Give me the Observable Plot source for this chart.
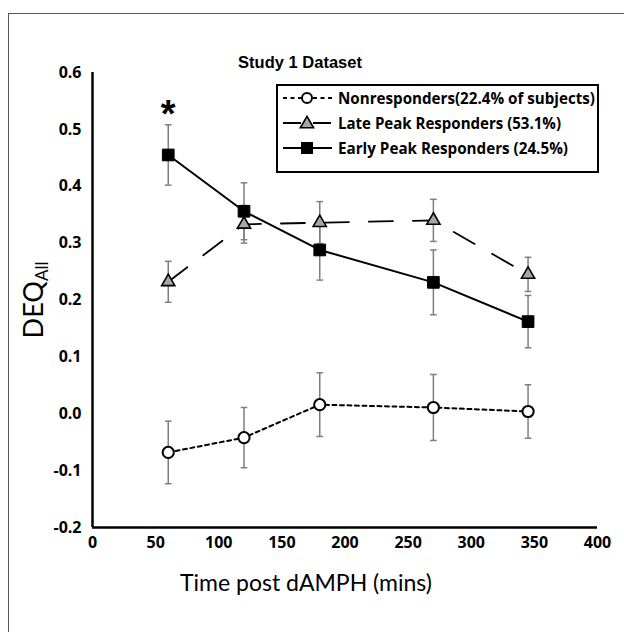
<!DOCTYPE html>
<html><head><meta charset="utf-8">
<script src="https://cdn.jsdelivr.net/npm/d3@7"></script>
<script src="https://cdn.jsdelivr.net/npm/@observablehq/plot@0.6"></script>
<style>
html,body{margin:0;background:#fff;overflow:hidden;}
#chart{position:relative;width:624px;height:632px;overflow:hidden;}
#chart svg{display:block;position:relative;z-index:1;}
#frame{position:absolute;left:8px;top:13px;width:700px;height:700px;border:1.5px solid #595959;box-sizing:border-box;z-index:2;pointer-events:none;}
</style>
</head><body><div id="chart"><div id="frame"></div></div>
<script>
const times = [60, 120, 180, 270, 345];
const seriesNames = ["Nonresponders", "Late Peak Responders", "Early Peak Responders"];
const legendLabels = ["Nonresponders(22.4% of subjects)", "Late Peak Responders (53.1%)", "Early Peak Responders (24.5%)"];
const nonMean = [-0.068, -0.042, 0.016, 0.011, 0.004];
const nonErr = [0.055, 0.053, 0.056, 0.058, 0.047];
const lateMean = [0.232, 0.333, 0.336, 0.340, 0.245];
const lateErr = [0.036, 0.033, 0.037, 0.037, 0.030];
const earlyMean = [0.455, 0.356, 0.288, 0.231, 0.162];
const earlyErr = [0.053, 0.050, 0.053, 0.057, 0.046];
const xTicks = [0, 50, 100, 150, 200, 250, 300, 350, 400];
const yTicks = [-0.2, -0.1, 0.0, 0.1, 0.2, 0.3, 0.4, 0.5, 0.6];
const starTimes = [60];
const titleText = "Study 1 Dataset";
const xLabel = "Time post dAMPH (mins)";

const rows = (mean, err, name) => times.map((t, i) => ({t, y: mean[i], lo: mean[i] - err[i], hi: mean[i] + err[i], s: name}));
const non = rows(nonMean, nonErr, seriesNames[0]);
const late = rows(lateMean, lateErr, seriesNames[1]);
const early = rows(earlyMean, earlyErr, seriesNames[2]);
const all = [...non, ...late, ...early];
const stars = starTimes.map(t => { const i = times.indexOf(t); return {t, y: earlyMean[i] + earlyErr[i]}; });

const capSymbol = {draw(ctx, size) { const r = Math.sqrt(size / Math.PI); ctx.moveTo(-r, 0); ctx.lineTo(r, 0); }};
const errColor = "#7f7f7f";

const plot = Plot.plot({
  width: 624, height: 632,
  marginLeft: 92, marginRight: 27, marginTop: 72, marginBottom: 105,
  x: {domain: [0, 400], label: null},
  y: {domain: [-0.2, 0.6], label: null},
  style: {fontFamily: "'Open Sans', sans-serif", fontSize: "16px", fontWeight: "bold", color: "#000", background: "transparent", overflow: "visible"},
  marks: [
    Plot.axisX({ticks: xTicks, tickSize: 0, tickPadding: 9, label: null, fontSize: 16, fontWeight: "bold", fill: "#000"}),
    Plot.axisY({ticks: yTicks, tickSize: 0, tickPadding: 11, label: null, tickFormat: d => d.toFixed(1), fontSize: 16, fontWeight: "bold", fill: "#000"}),
    Plot.ruleX(all, {x: "t", y1: "lo", y2: "hi", stroke: errColor, strokeWidth: 1.5}),
    Plot.dot(all, {x: "t", y: "lo", symbol: capSymbol, r: 3.3, stroke: errColor, strokeWidth: 1.5}),
    Plot.dot(all, {x: "t", y: "hi", symbol: capSymbol, r: 3.3, stroke: errColor, strokeWidth: 1.5}),
    Plot.line(non, {x: "t", y: "y", stroke: "black", strokeWidth: 2, strokeDasharray: "4,3.5"}),
    Plot.line(late, {x: "t", y: "y", stroke: "black", strokeWidth: 1.8, strokeDasharray: "24,20"}),
    Plot.line(early, {x: "t", y: "y", stroke: "black", strokeWidth: 2}),
    Plot.dot(non, {x: "t", y: "y", symbol: "circle", r: 5.6, fill: "white", stroke: "black", strokeWidth: 2}),
    Plot.dot(late, {x: "t", y: "y", symbol: "triangle", r: 4.9, fill: "#a6a6a6", stroke: "black", strokeWidth: 1.6}),
    Plot.dot(early, {x: "t", y: "y", symbol: "square", r: 6.6, fill: "black", stroke: "black", strokeWidth: 1}),
    Plot.ruleX([0], {stroke: "black", strokeWidth: 2.5}),
    Plot.ruleY([-0.2], {stroke: "black", strokeWidth: 2.5}),
    Plot.text(stars, {x: "t", y: "y", text: () => "*", dy: -10, fontSize: 38, fontWeight: "bold", fontFamily: "'Liberation Sans', Arial, sans-serif", fill: "black"}),
    Plot.text([titleText], {frameAnchor: "top", dy: -5, dx: -45, fontSize: 16.5, fontWeight: "bold", fontFamily: "'Liberation Sans', Arial, sans-serif", fill: "black", lineAnchor: "bottom"})
  ]
});

const svg = d3.select(plot);

// y label with subscript
const yl = svg.append("text").attr("transform", "translate(43,300) rotate(-90)").attr("text-anchor", "middle")
  .style("font-family", "Lato, sans-serif").style("font-weight", "normal").style("font-size", "27px").attr("fill", "black");
yl.append("tspan").text("DEQ");
yl.append("tspan").attr("font-size", "17px").attr("dy", "5").text("All");

// x label
svg.append("text").attr("x", 306).attr("y", 591).attr("text-anchor", "middle")
  .style("font-family", "Lato, sans-serif").style("font-weight", "normal").style("font-size", "23px").attr("fill", "black").text(xLabel);

// legend
const lg = svg.append("g").attr("text-anchor", "start");
lg.append("rect").attr("x", 277).attr("y", 85).attr("width", 321).attr("height", 87).attr("fill", "white").attr("stroke", "black").attr("stroke-width", 2);
const rowsY = [98, 123, 148];
const styles = [
  {dash: "4,3.5", w: 2},
  {dash: "18,12", w: 1.8},
  {dash: null, w: 2}
];
rowsY.forEach((yy, i) => {
  const l = lg.append("line").attr("x1", 283).attr("x2", 332).attr("y1", yy).attr("y2", yy).attr("stroke", "black").attr("stroke-width", styles[i].w);
  if (styles[i].dash) l.attr("stroke-dasharray", styles[i].dash);
  if (i === 0) lg.append("circle").attr("cx", 307).attr("cy", yy).attr("r", 5).attr("fill", "white").attr("stroke", "black").attr("stroke-width", 2);
  if (i === 1) lg.append("path").attr("d", d3.symbol(d3.symbolTriangle, 4.9 * 4.9 * Math.PI)()).attr("transform", `translate(307,${yy + 1})`).attr("fill", "#a6a6a6").attr("stroke", "black").attr("stroke-width", 1.6);
  if (i === 2) lg.append("rect").attr("x", 301).attr("y", yy - 6).attr("width", 12).attr("height", 12).attr("fill", "black");
  lg.append("text").attr("x", 338).attr("y", yy + 5.5).attr("text-anchor", "start").text(legendLabels[i])
    .style("font-family", "'Open Sans', sans-serif").style("font-weight", "bold").style("font-size", "15.5px").attr("fill", "black")
    .attr("textLength", [257, 223, 230][i]).attr("lengthAdjust", "spacingAndGlyphs");
});

document.getElementById("chart").appendChild(plot);
</script>
</body></html>
